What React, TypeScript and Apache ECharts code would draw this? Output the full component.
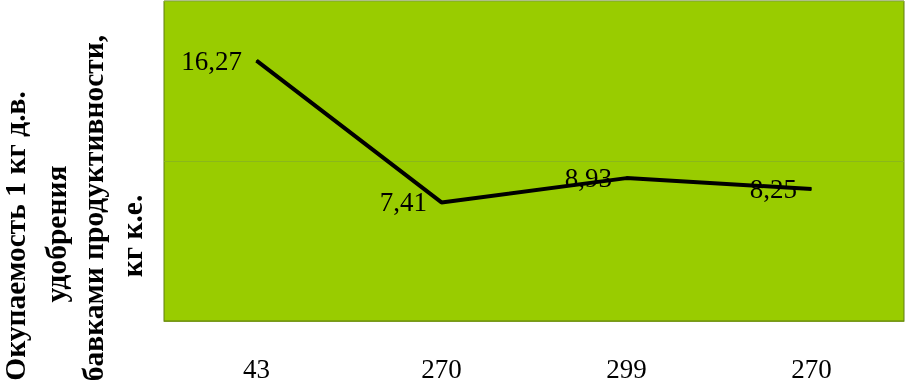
import React, { useEffect, useRef } from "react";
import * as echarts from "echarts";

const categories = ["43", "270", "299", "270"];
const values = [16.27, 7.41, 8.93, 8.25];
const yMin = 0;
const yMax = 20;
const yInterval = 10;
const titleLines = [
  "Окупаемость 1 кг д.в.",
  "удобрения",
  "бавками продуктивности,",
  "кг к.е.",
];
const titleLineX = [15, 56, 93, 132];
const titleLineY = [236, 234, 208, 236];

const SERIF = "'Liberation Serif', 'Times New Roman', Times, serif";

export default function App() {
  const ref = useRef<HTMLDivElement>(null);
  useEffect(() => {
    if (!ref.current) return;
    const chart = echarts.init(ref.current, null, { renderer: "svg" });
    chart.setOption({
      animation: false,
      grid: {
        left: 164,
        right: 1,
        top: 1,
        bottom: 64,
        show: true,
        backgroundColor: "#99CC00",
        borderColor: "#5E7D12",
        borderWidth: 1,
      },
      xAxis: {
        type: "category",
        data: categories,
        boundaryGap: true,
        axisLine: { show: true, lineStyle: { color: "#7A9A20", width: 1 } },
        axisTick: { show: false },
        axisLabel: {
          margin: 34,
          fontFamily: SERIF,
          fontSize: 27,
          color: "#000",
        },
      },
      yAxis: {
        type: "value",
        min: yMin,
        max: yMax,
        interval: yInterval,
        axisLine: { show: false },
        axisTick: { show: false },
        axisLabel: { show: false },
        splitLine: { show: true, lineStyle: { color: "#8AB81A", width: 1 } },
      },
      series: [
        {
          type: "line",
          data: values,
          symbol: "circle",
          symbolSize: 1,
          showSymbol: true,
          itemStyle: { color: "#000" },
          lineStyle: { color: "#000", width: 4 },
          label: {
            show: true,
            position: "left",
            distance: 14,
            fontFamily: SERIF,
            fontSize: 27,
            color: "#000",
            formatter: (p: any) => String(p.value).replace(".", ","),
          },
        },
      ],
      graphic: titleLines.map((t, i) => ({
        type: "text",
        x: titleLineX[i],
        y: titleLineY[i],
        rotation: Math.PI / 2,
        style: {
          text: t,
          fontFamily: SERIF,
          fontWeight: "bold",
          fontSize: 29.5,
          fill: "#000",
          textAlign: "center",
          textVerticalAlign: "middle",
        },
      })),
    });
    return () => chart.dispose();
  }, []);
  return (
    <div
      ref={ref}
      style={{ width: 905, height: 385, position: "fixed", left: 0, top: 0 }}
    />
  );
}
